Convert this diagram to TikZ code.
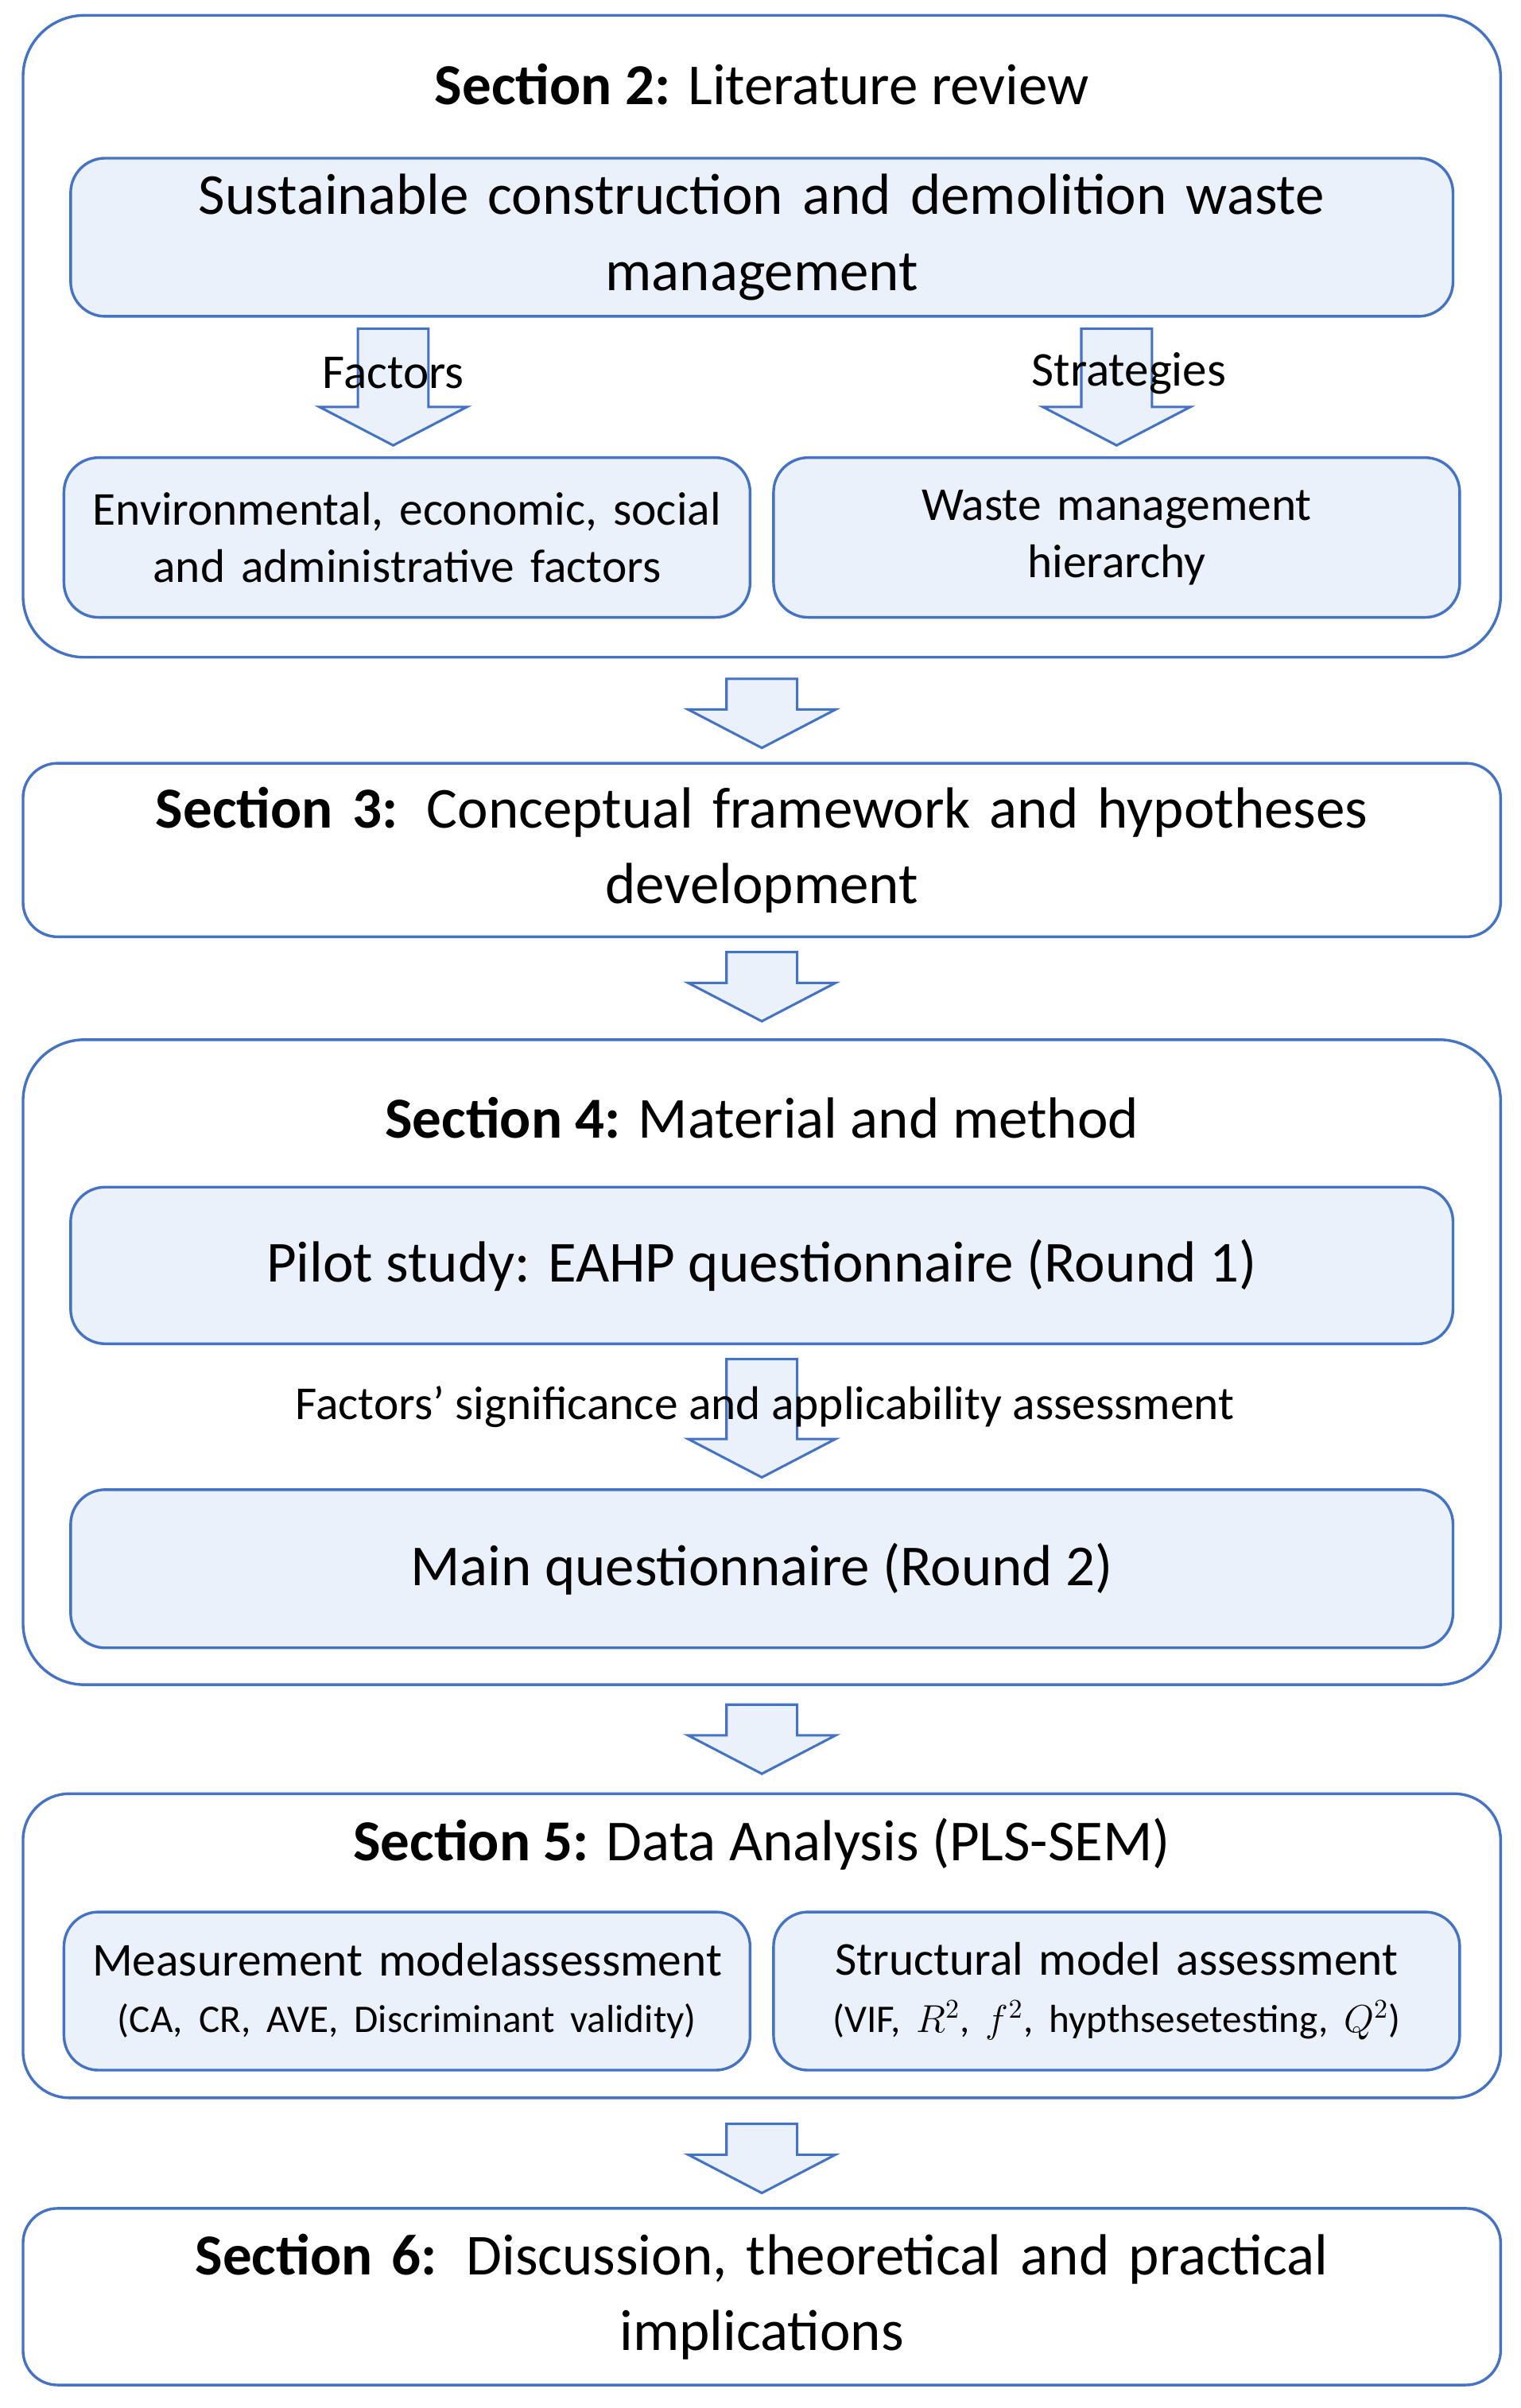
\documentclass[tikz,border=0pt]{standalone}
\usepackage{fontspec}
\setmainfont{Carlito}
\definecolor{frame}{HTML}{4472C4}
\definecolor{pale}{HTML}{EAF1FB}
\tikzset{
  section/.style={draw=frame, line width=1pt, rounded corners=0.8cm, minimum width=19.24cm},
  plain/.style={draw=frame, line width=1pt, rounded corners=0.45cm, minimum width=19.24cm, align=center, text width=18.6cm, font=\fontsize{21.5}{28}\selectfont},
  inner/.style={draw=frame, fill=pale, line width=1pt, rounded corners=0.45cm, align=center, font=\fontsize{21.5}{28}\selectfont},
  small/.style={inner, font=\fontsize{17.5}{21}\selectfont},
  title/.style={font=\fontsize{21.5}{24}\selectfont},
  pics/bigarrow/.style={code={
    \draw[draw=frame, fill=pale, line width=0.9pt] (-0.46,0) -- (0.46,0) -- (0.46,-#1+0.5) -- (0.96,-#1+0.5)
      -- (0,-#1) -- (-0.96,-#1+0.5) -- (-0.46,-#1+0.5) -- cycle;}}
}
\begin{document}
\begin{tikzpicture}
\useasboundingbox (0,0) rectangle (19.8,-31.36);
% Section 2
\node (sec2) [section, minimum height=8.36cm] at (9.92,-4.38) {};
\node (t2) [title] at (9.92,-1.1) {\textbf{Section 2:} Literature review};
\node (sust) [inner, minimum width=18cm, minimum height=2.06cm, text width=17.6cm] at (9.92,-3.09)
  {Sustainable construction and demolition waste\\ management};
\pic (afac) at (5.12,-4.28) {bigarrow=1.52};
\pic (astr) at (14.54,-4.28) {bigarrow=1.52};
\node (fac) [title, font=\fontsize{18}{20}\selectfont] at (5.12,-4.86) {Factors};
\node (str) [title, font=\fontsize{18}{20}\selectfont] at (14.7,-4.86) {Strategies};
\node (envf) [small, minimum width=8.76cm, minimum height=2.08cm, text width=8.7cm] at (5.3,-7.0)
  {Environmental, economic, social\\ and administrative factors};
\node (hier) [small, minimum width=8.76cm, minimum height=2.08cm, text width=8.7cm] at (14.54,-7.0)
  {Waste management\\ hierarchy};
\pic (a1) at (9.92,-8.84) {bigarrow=0.9};
% Section 3
\node (sec3) [plain, minimum height=2.26cm] at (9.92,-11.07)
  {\textbf{Section 3:} Conceptual framework and hypotheses\\ development};
\pic (a2) at (9.92,-12.4) {bigarrow=0.9};
% Section 4
\node (sec4) [section, minimum height=8.4cm] at (9.92,-17.74) {};
\node (t4) [title] at (9.92,-14.56) {\textbf{Section 4:} Material and method};
\node (pilot) [inner, minimum width=18cm, minimum height=2.04cm] at (9.92,-16.48)
  {Pilot study: EAHP questionnaire (Round 1)};
\pic (a3) at (9.92,-17.7) {bigarrow=1.54};
\node (sig) [font=\fontsize{17.5}{20}\selectfont] at (9.96,-18.32)
  {Factors’ significance and applicability assessment};
\node (mainq) [inner, minimum width=18cm, minimum height=2.06cm] at (9.92,-20.43)
  {Main questionnaire (Round 2)};
\pic (a4) at (9.92,-22.2) {bigarrow=0.9};
% Section 5
\node (sec5) [section, rounded corners=0.6cm, minimum height=3.96cm] at (9.92,-25.34) {};
\node (t5) [title] at (9.92,-24.02) {\textbf{Section 5:} Data Analysis (PLS-SEM)};
\node (meas) [small, minimum width=8.76cm, minimum height=2.06cm, text width=8.7cm] at (5.3,-25.93)
  {Measurement modelassessment\\ {\fontsize{14.5}{18}\selectfont (CA, CR, AVE, Discriminant validity)}};
\node (struc) [small, minimum width=8.76cm, minimum height=2.06cm, text width=8.7cm] at (14.54,-25.93)
  {Structural model assessment\\ {\fontsize{14.5}{18}\selectfont (VIF, $R^2$, $f^2$, hypthsesetesting, $Q^2$)}};
\pic (a5) at (9.92,-27.66) {bigarrow=0.9};
% Section 6
\node (sec6) [plain, minimum height=2.3cm] at (9.92,-29.91)
  {\textbf{Section 6:} Discussion, theoretical and practical\\ implications};
\end{tikzpicture}
\end{document}
